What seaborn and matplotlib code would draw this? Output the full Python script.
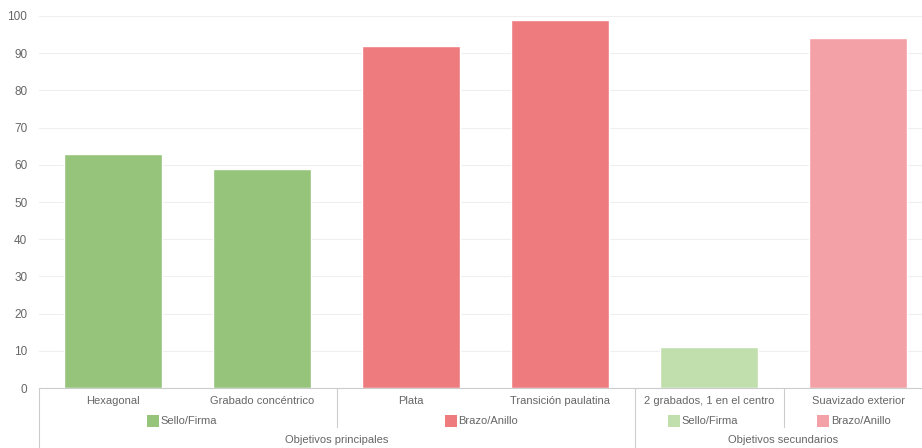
import numpy as np
import pandas as pd
import matplotlib.pyplot as plt
import seaborn as sns
from matplotlib.patches import Rectangle
from matplotlib.transforms import blended_transform_factory

# data
categories = ['Hexagonal', 'Grabado concéntrico', 'Plata', 'Transición paulatina',
              '2 grabados, 1 en el centro', 'Suavizado exterior']
values = [63, 59, 92, 99, 11, 94]
subgroups = ['Sello/Firma', 'Brazo/Anillo', 'Sello/Firma', 'Brazo/Anillo']
subgroup_sizes = [2, 2, 1, 1]
groups = ['Objetivos principales', 'Objetivos secundarios']
group_sizes = [4, 2]
colors = ['#95c47a', '#95c47a', '#ee7c7f', '#ee7c7f', '#c1dfad', '#f3a0a6']
subgroup_colors = ['#95c47a', '#ee7c7f', '#c1dfad', '#f3a0a6']

sns.set_theme(style='white')
plt.rcParams['font.family'] = ['Liberation Sans', 'DejaVu Sans']

text_col = '#666666'
line_col = '#cccccc'

df = pd.DataFrame({'categoria': categories, 'valor': values})

fig = plt.figure(figsize=(9.22, 4.48), dpi=100)
ax = fig.add_axes([38.5 / 922, 60 / 448, 894 / 922, 372 / 448])

sns.barplot(data=df, x='categoria', y='valor', hue='categoria', palette=colors,
            width=0.66, legend=False, ax=ax, saturation=1)

ax.set_ylim(0, 100)
ax.set_xlim(-0.5, len(categories) - 0.5)
ax.set_yticks(np.arange(0, 101, 10))
ax.yaxis.grid(True, color='#efefef', linewidth=0.8)
ax.set_axisbelow(True)
ax.tick_params(axis='y', length=0, pad=8, labelsize=8.5, labelcolor=text_col)
ax.set_xticks([])
ax.set_xlabel('')
ax.set_ylabel('')
for s in ['top', 'right', 'left']:
    ax.spines[s].set_visible(False)
ax.spines['bottom'].set_color(line_col)
ax.spines['bottom'].set_linewidth(0.8)

trans = blended_transform_factory(ax.transData, ax.transAxes)

# category labels
for i, c in enumerate(categories):
    ax.text(i, -0.035, c, transform=trans, ha='center', va='center',
            fontsize=8, color=text_col)

# subgroup labels with colored squares
start = 0
for name, n, col in zip(subgroups, subgroup_sizes, subgroup_colors):
    center = start - 0.5 + n / 2
    ax.add_patch(Rectangle((center - 0.272, -0.105), 0.08, 0.032, transform=trans,
                           facecolor=col, edgecolor='none', clip_on=False))
    ax.text(center - 0.182, -0.089, name, transform=trans, ha='left', va='center',
            fontsize=8, color=text_col)
    start += n

# group labels
start = 0
for name, n in zip(groups, group_sizes):
    center = start - 0.5 + n / 2
    ax.text(center, -0.14, name, transform=trans, ha='center', va='center',
            fontsize=8, color=text_col)
    start += n

# separator lines
group_edges = np.cumsum([0] + group_sizes) - 0.5
sub_edges = np.cumsum([0] + subgroup_sizes) - 0.5
for x in group_edges[:-1]:
    ax.plot([x, x], [0, -0.16], transform=trans, color=line_col, lw=0.8, clip_on=False)
for x in sub_edges[:-1]:
    if x in group_edges:
        continue
    ax.plot([x, x], [0, -0.105], transform=trans, color=line_col, lw=0.8, clip_on=False)

fig.savefig('out.png', dpi=100)
